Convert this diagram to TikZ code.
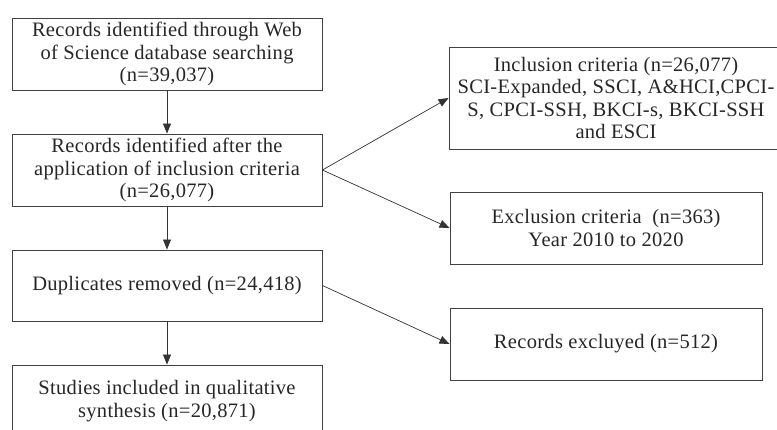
\documentclass[tikz,border=0pt]{standalone}
\usepackage{fontspec}
\setmainfont{Liberation Serif}[LetterSpace=1.5]
\usetikzlibrary{positioning,arrows.meta}

\begin{document}
\begin{tikzpicture}[x=1pt,y=-1pt]
\tikzstyle{box}=[draw=black!75,line width=0.9pt,align=center,inner sep=0pt,font=\fontsize{20.5}{22.5}\selectfont,text=black!85]
\tikzstyle{arr}=[draw=black!80,line width=0.7pt,-{Triangle[length=10pt,width=8pt]}]

\useasboundingbox (0,0) rectangle (777,430);
\clip (0,0) rectangle (777,430);

%left column
\node[box,minimum width=310pt,minimum height=72pt] (ident) at (167,54) {Records identified through Web\\of Science database searching\\(n=39,037)};
\node[box,minimum width=310pt,minimum height=72pt] (after) at (167,170) {Records identified after the\\application of inclusion criteria\\(n=26,077)};
\node[box,minimum width=310pt,minimum height=71pt] (dupl) at (167,285.5) {Duplicates removed (n=24,418)};
\node[box,minimum width=310pt,minimum height=72pt] (studies) at (167,401) {Studies included in qualitative\\synthesis (n=20,871)};

%right column
\node[box,minimum width=334pt,minimum height=102pt] (incl) at (616,98) {Inclusion criteria (n=26,077)\\SCI-Expanded, SSCI, A\&HCI,CPCI-\\S, CPCI-SSH, BKCI-s, BKCI-SSH\\and ESCI};
\node[box,minimum width=312pt,minimum height=72pt] (excl) at (606,228) {Exclusion criteria~~(n=363)\\Year 2010 to 2020};
\node[box,minimum width=312pt,minimum height=72pt] (excluyed) at (606,344) {Records excluyed (n=512)};

%arrows
\draw[arr] (ident) -- (after);
\draw[arr] (after) -- (dupl);
\draw[arr] (dupl) -- (studies);
\draw[arr] (after.east) -- (incl.west);
\draw[arr] (after.east) -- (excl.west);
\draw[arr] (dupl.east) -- (excluyed.west);
\end{tikzpicture}
\end{document}
